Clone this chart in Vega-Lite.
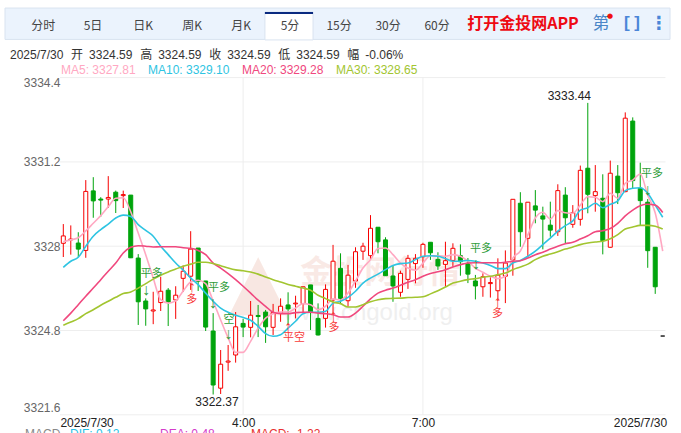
{"$schema":"https://vega.github.io/schema/vega-lite/v6.json","width":681,"height":433,"autosize":"none","padding":0,"background":"#ffffff","view":{"stroke":null},
"datasets":{"bars":[
{"i":0,"open":3328.11,"high":3328.84,"low":3327.59,"close":3328.39,"dir":"up","ma5":3328.17,"ma10":3327.20,"ma20":3325.17,"ma30":3325.00},
{"i":1,"open":3328.24,"high":3328.79,"low":3327.68,"close":3328.27,"dir":"up","ma5":3328.24,"ma10":3327.43,"ma20":3325.46,"ma30":3325.12},
{"i":2,"open":3328.12,"high":3328.53,"low":3327.59,"close":3327.89,"dir":"down","ma5":3328.32,"ma10":3327.58,"ma20":3325.78,"ma30":3325.25},
{"i":3,"open":3327.84,"high":3330.51,"low":3327.56,"close":3330.08,"dir":"up","ma5":3328.58,"ma10":3328.00,"ma20":3326.10,"ma30":3325.44},
{"i":4,"open":3330.10,"high":3330.62,"low":3329.08,"close":3329.72,"dir":"down","ma5":3328.87,"ma10":3328.38,"ma20":3326.41,"ma30":3325.59},
{"i":5,"open":3329.79,"high":3329.86,"low":3329.12,"close":3329.75,"dir":"down","ma5":3329.16,"ma10":3328.63,"ma20":3326.73,"ma30":3325.76},
{"i":6,"open":3329.79,"high":3330.66,"low":3329.45,"close":3329.85,"dir":"up","ma5":3329.50,"ma10":3328.84,"ma20":3327.05,"ma30":3325.91},
{"i":7,"open":3330.05,"high":3330.11,"low":3329.26,"close":3329.73,"dir":"down","ma5":3329.82,"ma10":3329.07,"ma20":3327.36,"ma30":3326.06},
{"i":8,"open":3329.92,"high":3330.11,"low":3329.45,"close":3329.96,"dir":"up","ma5":3329.84,"ma10":3329.18,"ma20":3327.74,"ma30":3326.20},
{"i":9,"open":3329.94,"high":3329.94,"low":3327.55,"close":3327.56,"dir":"down","ma5":3329.31,"ma10":3329.13,"ma20":3327.96,"ma30":3326.26},
{"i":10,"open":3327.55,"high":3327.70,"low":3325.01,"close":3325.89,"dir":"down","ma5":3328.50,"ma10":3328.82,"ma20":3328.02,"ma30":3326.41},
{"i":11,"open":3325.92,"high":3326.02,"low":3324.98,"close":3325.62,"dir":"down","ma5":3327.68,"ma10":3328.60,"ma20":3328.00,"ma30":3326.58},
{"i":12,"open":3325.54,"high":3326.27,"low":3325.04,"close":3325.58,"dir":"up","ma5":3326.79,"ma10":3328.38,"ma20":3327.97,"ma30":3326.75},
{"i":13,"open":3325.86,"high":3326.84,"low":3325.54,"close":3326.29,"dir":"up","ma5":3325.97,"ma10":3328.00,"ma20":3327.98,"ma30":3326.90},
{"i":14,"open":3326.33,"high":3326.41,"low":3324.97,"close":3325.87,"dir":"down","ma5":3325.84,"ma10":3327.68,"ma20":3327.98,"ma30":3327.02},
{"i":15,"open":3325.96,"high":3326.48,"low":3325.24,"close":3326.14,"dir":"up","ma5":3325.93,"ma10":3327.36,"ma20":3327.98,"ma30":3327.13},
{"i":16,"open":3326.78,"high":3327.27,"low":3326.26,"close":3327.05,"dir":"up","ma5":3326.30,"ma10":3327.09,"ma20":3327.94,"ma30":3327.24},
{"i":17,"open":3326.86,"high":3328.57,"low":3326.34,"close":3327.89,"dir":"up","ma5":3326.64,"ma10":3326.79,"ma20":3327.92,"ma30":3327.32},
{"i":18,"open":3327.93,"high":3327.93,"low":3326.30,"close":3326.67,"dir":"down","ma5":3326.71,"ma10":3326.54,"ma20":3327.84,"ma30":3327.39},
{"i":19,"open":3326.68,"high":3326.68,"low":3324.78,"close":3324.93,"dir":"down","ma5":3326.58,"ma10":3326.22,"ma20":3327.68,"ma30":3327.39},
{"i":20,"open":3324.78,"high":3325.46,"low":3322.37,"close":3322.73,"dir":"down","ma5":3325.91,"ma10":3325.91,"ma20":3327.36,"ma30":3327.34},
{"i":21,"open":3322.61,"high":3324.06,"low":3322.39,"close":3323.52,"dir":"up","ma5":3325.20,"ma10":3325.65,"ma20":3327.17,"ma30":3327.26},
{"i":22,"open":3323.60,"high":3324.25,"low":3323.27,"close":3323.64,"dir":"up","ma5":3324.52,"ma10":3325.49,"ma20":3326.96,"ma30":3327.17},
{"i":23,"open":3323.87,"high":3325.50,"low":3323.58,"close":3324.94,"dir":"up","ma5":3323.97,"ma10":3325.38,"ma20":3326.73,"ma30":3327.10},
{"i":24,"open":3325.07,"high":3325.24,"low":3324.55,"close":3324.93,"dir":"down","ma5":3323.97,"ma10":3325.29,"ma20":3326.48,"ma30":3327.07},
{"i":25,"open":3324.92,"high":3325.92,"low":3324.54,"close":3325.38,"dir":"up","ma5":3324.39,"ma10":3325.19,"ma20":3326.22,"ma30":3327.02},
{"i":26,"open":3325.37,"high":3325.77,"low":3324.55,"close":3325.33,"dir":"down","ma5":3324.89,"ma10":3324.96,"ma20":3325.95,"ma30":3326.94},
{"i":27,"open":3325.50,"high":3325.58,"low":3324.33,"close":3324.94,"dir":"down","ma5":3325.27,"ma10":3324.68,"ma20":3325.72,"ma30":3326.83},
{"i":28,"open":3324.92,"high":3325.81,"low":3324.63,"close":3325.48,"dir":"up","ma5":3325.44,"ma10":3324.58,"ma20":3325.49,"ma30":3326.73},
{"i":29,"open":3325.45,"high":3326.02,"low":3325.13,"close":3325.72,"dir":"up","ma5":3325.50,"ma10":3324.64,"ma20":3325.44,"ma30":3326.64},
{"i":30,"open":3325.77,"high":3326.25,"low":3325.01,"close":3325.62,"dir":"down","ma5":3325.50,"ma10":3324.89,"ma20":3325.44,"ma30":3326.55},
{"i":31,"open":3325.81,"high":3326.12,"low":3325.26,"close":3325.84,"dir":"up","ma5":3325.65,"ma10":3325.15,"ma20":3325.48,"ma30":3326.48},
{"i":32,"open":3325.82,"high":3326.46,"low":3325.49,"close":3326.46,"dir":"up","ma5":3325.82,"ma10":3325.44,"ma20":3325.49,"ma30":3326.41},
{"i":33,"open":3326.53,"high":3326.53,"low":3324.82,"close":3325.51,"dir":"down","ma5":3325.78,"ma10":3325.49,"ma20":3325.49,"ma30":3326.33},
{"i":34,"open":3325.26,"high":3325.83,"low":3324.61,"close":3324.63,"dir":"down","ma5":3325.59,"ma10":3325.49,"ma20":3325.46,"ma30":3326.14},
{"i":35,"open":3325.26,"high":3326.55,"low":3324.91,"close":3326.36,"dir":"up","ma5":3325.72,"ma10":3325.53,"ma20":3325.44,"ma30":3326.01},
{"i":36,"open":3325.96,"high":3328.05,"low":3325.45,"close":3327.43,"dir":"up","ma5":3326.00,"ma10":3325.84,"ma20":3325.40,"ma30":3325.88},
{"i":37,"open":3327.16,"high":3327.73,"low":3325.83,"close":3326.02,"dir":"down","ma5":3325.96,"ma10":3325.91,"ma20":3325.31,"ma30":3325.82},
{"i":38,"open":3325.93,"high":3327.29,"low":3325.70,"close":3326.90,"dir":"up","ma5":3326.22,"ma10":3326.06,"ma20":3325.31,"ma30":3325.69},
{"i":39,"open":3326.68,"high":3327.96,"low":3326.42,"close":3327.79,"dir":"up","ma5":3326.68,"ma10":3326.29,"ma20":3325.46,"ma30":3325.69},
{"i":40,"open":3327.81,"high":3328.13,"low":3327.48,"close":3328.00,"dir":"up","ma5":3327.17,"ma10":3326.60,"ma20":3325.72,"ma30":3325.78},
{"i":41,"open":3327.64,"high":3329.18,"low":3327.51,"close":3328.68,"dir":"up","ma5":3327.49,"ma10":3326.79,"ma20":3326.00,"ma30":3325.89},
{"i":42,"open":3328.72,"high":3328.72,"low":3327.73,"close":3328.17,"dir":"down","ma5":3327.91,"ma10":3326.94,"ma20":3326.22,"ma30":3325.97},
{"i":43,"open":3328.24,"high":3328.34,"low":3326.87,"close":3326.88,"dir":"down","ma5":3327.93,"ma10":3327.11,"ma20":3326.33,"ma30":3326.01},
{"i":44,"open":3326.87,"high":3327.25,"low":3325.89,"close":3326.49,"dir":"down","ma5":3327.68,"ma10":3327.27,"ma20":3326.41,"ma30":3326.02},
{"i":45,"open":3326.25,"high":3327.07,"low":3326.08,"close":3326.97,"dir":"up","ma5":3327.36,"ma10":3327.34,"ma20":3326.52,"ma30":3326.03},
{"i":46,"open":3326.74,"high":3327.67,"low":3326.38,"close":3327.54,"dir":"up","ma5":3327.17,"ma10":3327.36,"ma20":3326.63,"ma30":3326.05},
{"i":47,"open":3327.34,"high":3327.70,"low":3326.59,"close":3327.54,"dir":"up","ma5":3327.09,"ma10":3327.49,"ma20":3326.73,"ma30":3326.06},
{"i":48,"open":3327.60,"high":3328.13,"low":3327.18,"close":3328.07,"dir":"up","ma5":3327.36,"ma10":3327.62,"ma20":3326.86,"ma30":3326.08},
{"i":49,"open":3328.15,"high":3328.15,"low":3327.48,"close":3327.75,"dir":"down","ma5":3327.64,"ma10":3327.64,"ma20":3326.96,"ma30":3326.19},
{"i":50,"open":3327.50,"high":3327.77,"low":3327.10,"close":3327.25,"dir":"down","ma5":3327.64,"ma10":3327.62,"ma20":3327.03,"ma30":3326.31},
{"i":51,"open":3327.31,"high":3328.17,"low":3326.46,"close":3327.45,"dir":"up","ma5":3327.62,"ma10":3327.53,"ma20":3327.11,"ma30":3326.45},
{"i":52,"open":3327.46,"high":3328.11,"low":3327.22,"close":3327.92,"dir":"up","ma5":3327.68,"ma10":3327.43,"ma20":3327.21,"ma30":3326.60},
{"i":53,"open":3327.64,"high":3328.07,"low":3326.88,"close":3327.41,"dir":"down","ma5":3327.62,"ma10":3327.43,"ma20":3327.30,"ma30":3326.67},
{"i":54,"open":3327.35,"high":3327.55,"low":3326.60,"close":3326.94,"dir":"down","ma5":3327.43,"ma10":3327.46,"ma20":3327.36,"ma30":3326.73},
{"i":55,"open":3326.68,"high":3326.91,"low":3325.98,"close":3326.49,"dir":"down","ma5":3327.17,"ma10":3327.43,"ma20":3327.37,"ma30":3326.77},
{"i":56,"open":3326.46,"high":3326.97,"low":3326.08,"close":3326.84,"dir":"up","ma5":3327.01,"ma10":3327.36,"ma20":3327.37,"ma30":3326.82},
{"i":57,"open":3326.58,"high":3326.82,"low":3326.05,"close":3326.62,"dir":"up","ma5":3326.86,"ma10":3327.27,"ma20":3327.37,"ma30":3326.86},
{"i":58,"open":3326.31,"high":3327.54,"low":3325.92,"close":3326.90,"dir":"up","ma5":3326.77,"ma10":3327.15,"ma20":3327.37,"ma30":3326.92},
{"i":59,"open":3326.86,"high":3327.84,"low":3325.84,"close":3327.36,"dir":"up","ma5":3326.86,"ma10":3327.15,"ma20":3327.39,"ma30":3326.98},
{"i":60,"open":3327.48,"high":3329.78,"low":3326.88,"close":3329.78,"dir":"up","ma5":3327.55,"ma10":3327.36,"ma20":3327.43,"ma30":3327.11},
{"i":61,"open":3329.63,"high":3330.05,"low":3327.98,"close":3328.55,"dir":"down","ma5":3327.82,"ma10":3327.46,"ma20":3327.45,"ma30":3327.21},
{"i":62,"open":3328.30,"high":3329.67,"low":3327.58,"close":3329.67,"dir":"up","ma5":3328.43,"ma10":3327.62,"ma20":3327.55,"ma30":3327.32},
{"i":63,"open":3329.53,"high":3330.13,"low":3328.87,"close":3329.37,"dir":"down","ma5":3329.07,"ma10":3327.81,"ma20":3327.68,"ma30":3327.49},
{"i":64,"open":3329.15,"high":3329.50,"low":3327.88,"close":3329.03,"dir":"down","ma5":3329.29,"ma10":3328.06,"ma20":3327.77,"ma30":3327.62},
{"i":65,"open":3328.80,"high":3329.69,"low":3328.36,"close":3328.61,"dir":"down","ma5":3329.03,"ma10":3328.31,"ma20":3327.89,"ma30":3327.70},
{"i":66,"open":3328.55,"high":3330.35,"low":3328.39,"close":3330.11,"dir":"up","ma5":3329.35,"ma10":3328.57,"ma20":3328.00,"ma30":3327.79},
{"i":67,"open":3329.94,"high":3330.24,"low":3328.11,"close":3329.08,"dir":"down","ma5":3329.27,"ma10":3328.78,"ma20":3328.09,"ma30":3327.89},
{"i":68,"open":3328.83,"high":3329.56,"low":3328.70,"close":3329.27,"dir":"up","ma5":3329.25,"ma10":3328.96,"ma20":3328.15,"ma30":3327.97},
{"i":69,"open":3329.02,"high":3331.06,"low":3328.78,"close":3330.88,"dir":"up","ma5":3329.56,"ma10":3329.37,"ma20":3328.27,"ma30":3328.06},
{"i":70,"open":3330.96,"high":3333.44,"low":3329.25,"close":3329.97,"dir":"down","ma5":3329.88,"ma10":3329.46,"ma20":3328.40,"ma30":3328.12},
{"i":71,"open":3329.92,"high":3331.08,"low":3329.31,"close":3330.07,"dir":"up","ma5":3329.86,"ma10":3329.63,"ma20":3328.55,"ma30":3328.16},
{"i":72,"open":3329.82,"high":3330.73,"low":3327.69,"close":3328.21,"dir":"down","ma5":3329.69,"ma10":3329.46,"ma20":3328.59,"ma30":3328.19},
{"i":73,"open":3327.96,"high":3331.25,"low":3327.94,"close":3330.77,"dir":"up","ma5":3330.01,"ma10":3329.59,"ma20":3328.67,"ma30":3328.28},
{"i":74,"open":3330.66,"high":3331.08,"low":3329.60,"close":3330.03,"dir":"down","ma5":3329.82,"ma10":3329.72,"ma20":3328.87,"ma30":3328.44},
{"i":75,"open":3330.07,"high":3333.08,"low":3330.05,"close":3332.86,"dir":"up","ma5":3330.39,"ma10":3330.11,"ma20":3329.15,"ma30":3328.65},
{"i":76,"open":3332.75,"high":3332.89,"low":3330.20,"close":3330.49,"dir":"down","ma5":3330.51,"ma10":3330.20,"ma20":3329.37,"ma30":3328.73},
{"i":77,"open":3330.20,"high":3331.17,"low":3328.80,"close":3329.73,"dir":"down","ma5":3330.74,"ma10":3330.22,"ma20":3329.54,"ma30":3328.79},
{"i":78,"open":3329.67,"high":3329.79,"low":3327.18,"close":3327.83,"dir":"down","ma5":3329.94,"ma10":3330.01,"ma20":3329.59,"ma30":3328.79},
{"i":79,"open":3327.96,"high":3327.97,"low":3326.19,"close":3326.46,"dir":"down","ma5":3329.26,"ma10":3329.56,"ma20":3329.56,"ma30":3328.76},
{"i":80,"open":3324.59,"high":3324.59,"low":3324.59,"close":3324.59,"dir":"flat","ma5":3327.81,"ma10":3329.10,"ma20":3329.28,"ma30":3328.65}
],
"signals":[
{"i":11.77,"price":3326.94,"label":"平多","side":"close"},
{"i":11.04,"price":3326.34,"label":"↓","side":"close"},
{"i":17.14,"price":3325.97,"label":"多","side":"open"},
{"i":17.14,"price":3326.45,"label":"↑","side":"open"},
{"i":20.78,"price":3326.41,"label":"平多","side":"close"},
{"i":19.94,"price":3325.84,"label":"↓","side":"close"},
{"i":22.12,"price":3325.20,"label":"空","side":"close"},
{"i":22.02,"price":3324.67,"label":"↓","side":"close"},
{"i":30.79,"price":3324.52,"label":"平空","side":"open"},
{"i":29.99,"price":3324.93,"label":"↑","side":"open"},
{"i":36.13,"price":3324.89,"label":"多","side":"open"},
{"i":36.04,"price":3325.35,"label":"↑","side":"open"},
{"i":55.75,"price":3327.89,"label":"平多","side":"close"},
{"i":55.04,"price":3327.32,"label":"↓","side":"close"},
{"i":57.95,"price":3325.43,"label":"多","side":"open"},
{"i":57.95,"price":3325.88,"label":"↑","side":"open"},
{"i":78.57,"price":3330.74,"label":"平多","side":"close"},
{"i":77.97,"price":3330.13,"label":"↓","side":"close"}
]},
"layer":[
{"data":{"values":[{}]},"mark":{"type":"rect","fill":"#ebf3fd","stroke":"#d9e3f0","strokeWidth":1},"encoding":{"x":{"datum":-7.78,"type":"quantitative","axis":null},"x2":{"datum":80.98},"y":{"datum":3337.04,"type":"quantitative","axis":null},"y2":{"datum":3335.85}}},
{"data":{"values":[{}]},"mark":{"type":"rect","fill":"#ffffff","stroke":"#d9e3f0","strokeWidth":1},"encoding":{"x":{"datum":26.91,"type":"quantitative","axis":null},"x2":{"datum":33.33},"y":{"datum":3336.89,"type":"quantitative","axis":null},"y2":{"datum":3335.83}}},
{"data":{"values":[{}]},"mark":{"type":"rect","fill":"#0a2a80"},"encoding":{"x":{"datum":26.91,"type":"quantitative","axis":null},"x2":{"datum":33.33},"y":{"datum":3336.89,"type":"quantitative","axis":null},"y2":{"datum":3336.81}}},
{"data":{"values":[{"price":3334.4},{"price":3331.2},{"price":3328},{"price":3324.8},{"price":3321.6}]},"mark":{"type":"rule","stroke":"#eeeeee","strokeWidth":1},"encoding":{"y":{"field":"price","type":"quantitative","scale":{"domain":[3320.909,3337.346],"nice":false,"zero":false,"padding":0},"axis":{"title":null,"orient":"left","offset":-60,"values":[3334.4,3331.2,3328,3324.8,3321.6],"domain":false,"ticks":false,"grid":false,"labelFont":"Liberation Sans","labelFontSize":12,"labelColor":"#666666","labelPadding":0,"labelBound":false,"labelFlush":false,"labelOverlap":false,"labelExpr":"datum.value==3328?'3328':format(datum.value,'.1f')","labelBaseline":{"expr":"datum.value>3334?'top':datum.value<3322?'bottom':'middle'"}}},"x":{"datum":-0.44,"type":"quantitative","axis":null},"x2":{"datum":80.37}}},
{"data":{"values":[{"i":24},{"i":48}]},"mark":{"type":"rule","stroke":"#eeeeee","strokeWidth":1},"encoding":{"x":{"field":"i","type":"quantitative","scale":{"domain":[-8.448,82.44],"nice":false,"zero":false,"padding":0},"axis":{"title":null,"orient":"bottom","offset":-18,"values":[3.11,24,48,76.97],"domain":false,"ticks":false,"grid":false,"labelFont":"Liberation Sans","labelFontSize":12,"labelColor":"#222222","labelPadding":2,"labelFlush":false,"labelOverlap":false,"labelExpr":"datum.value==24?'4:00':datum.value==48?'7:00':'2025/7/30'"}},"y":{"datum":3334.4,"type":"quantitative","axis":null},"y2":{"datum":3321.6}}},
{"data":{"values":[{"t":"金投网行情"}]},"mark":{"type":"text","font":"Noto Sans CJK SC","fontSize":32,"fontWeight":"bold","fill":"#f9e9e5","align":"center","baseline":"middle"},"encoding":{"text":{"field":"t"},"x":{"datum":42.3,"type":"quantitative","axis":null},"y":{"datum":3326.98,"type":"quantitative","axis":null}}},
{"data":{"values":[{"t":"▲"}]},"mark":{"type":"text","font":"DejaVu Sans","fontSize":76,"fill":"#f8e7e2","align":"center","baseline":"middle"},"encoding":{"text":{"field":"t"},"x":{"datum":26,"type":"quantitative","axis":null},"y":{"datum":3326.6,"type":"quantitative","axis":null}}},
{"data":{"values":[{"t":"www.cngold.org"}]},"mark":{"type":"text","font":"Liberation Sans","fontSize":24,"fill":"#efefef","align":"center","baseline":"middle"},"encoding":{"text":{"field":"t"},"x":{"datum":40.7,"type":"quantitative","axis":null},"y":{"datum":3325.45,"type":"quantitative","axis":null}}},
{"data":{"name":"bars"},"mark":{"type":"rule","strokeWidth":1},"encoding":{"x":{"field":"i","type":"quantitative","axis":null},"y":{"field":"low","type":"quantitative","axis":null},"y2":{"field":"high"},"stroke":{"field":"dir","type":"nominal","legend":null,"scale":{"domain":["up","down","flat"],"range":["#f70000","#00a40c","#222222"]}}}},
{"data":{"name":"bars"},"mark":{"type":"bar","size":4,"orient":"vertical","strokeWidth":1},"encoding":{"x":{"field":"i","type":"quantitative","axis":null},"y":{"field":"open","type":"quantitative","axis":null},"y2":{"field":"close"},"stroke":{"field":"dir","type":"nominal","legend":null},"fill":{"field":"dir","type":"nominal","legend":null,"scale":{"domain":["up","down","flat"],"range":["#ffffff","#00a40c","#222222"]}}}},
{"data":{"name":"bars"},"transform":[{"fold":["ma5","ma10","ma20","ma30"],"as":["line","value"]}],"mark":{"type":"line","strokeWidth":1.6,"interpolate":"monotone"},"encoding":{"x":{"field":"i","type":"quantitative","axis":null},"y":{"field":"value","type":"quantitative","axis":null},"color":{"field":"line","type":"nominal","scale":{"domain":["ma5","ma10","ma20","ma30"],"range":["#ffa8c2","#2ec4e2","#f0487e","#a2c530"]},"legend":{"title":null,"orient":"none","legendX":49,"legendY":63.5,"direction":"horizontal","columns":4,"gridAlign":"each","columnPadding":0,"padding":0,"symbolSize":0,"symbolOpacity":0,"symbolStrokeWidth":0,"labelOffset":0,"labelFont":"Liberation Sans","labelFontSize":12,"labelExpr":"datum.value=='ma5'?'MA5: 3327.81':datum.value=='ma10'?'MA10: 3329.10':datum.value=='ma20'?'MA20: 3329.28':'MA30: 3328.65'","encode":{"labels":{"update":{"fill":{"scale":"color","field":"value"}}}}}}}},
{"data":{"name":"signals"},"transform":[{"filter":"datum.label!='↓'&&datum.label!='↑'"}],"mark":{"type":"text","font":"Noto Sans CJK SC","fontSize":11,"align":"center","baseline":"middle"},"encoding":{"x":{"field":"i","type":"quantitative","axis":null},"y":{"field":"price","type":"quantitative","axis":null},"text":{"field":"label"},"fill":{"field":"side","type":"nominal","legend":null,"scale":{"domain":["close","open"],"range":["#2e9c3a","#f83a3a"]}}}},
{"data":{"name":"signals"},"transform":[{"filter":"datum.label=='↓'||datum.label=='↑'"}],"mark":{"type":"text","font":"Liberation Sans","fontSize":16,"align":"center","baseline":"middle"},"encoding":{"x":{"field":"i","type":"quantitative","axis":null},"y":{"field":"price","type":"quantitative","axis":null},"text":{"field":"label"},"fill":{"field":"side","type":"nominal","legend":null,"scale":{"domain":["close","open"],"range":["#2e9c3a","#f83a3a"]}}}},
{"data":{"values":[{"i":67.54,"price":3333.70,"label":"3333.44"},{"i":20.51,"price":3322.09,"label":"3322.37"}]},"mark":{"type":"text","font":"Liberation Sans","fontSize":12,"fill":"#222222","align":"center","baseline":"middle"},"encoding":{"x":{"field":"i","type":"quantitative","axis":null},"y":{"field":"price","type":"quantitative","axis":null},"text":{"field":"label"}}},
{"data":{"values":[{"t":"分时"}]},"mark":{"type":"text","font":"Noto Sans CJK SC","fontSize":12,"fill":"#444444","align":"center","baseline":"middle"},"encoding":{"text":{"field":"t"},"x":{"datum":-2.67,"type":"quantitative","axis":null},"y":{"datum":3336.36,"type":"quantitative","axis":null}}},
{"data":{"values":[{"t":"5日"}]},"mark":{"type":"text","font":"Noto Sans CJK SC","fontSize":12,"fill":"#444444","align":"center","baseline":"middle"},"encoding":{"text":{"field":"t"},"x":{"datum":3.96,"type":"quantitative","axis":null},"y":{"datum":3336.36,"type":"quantitative","axis":null}}},
{"data":{"values":[{"t":"日K"}]},"mark":{"type":"text","font":"Noto Sans CJK SC","fontSize":12,"fill":"#444444","align":"center","baseline":"middle"},"encoding":{"text":{"field":"t"},"x":{"datum":10.64,"type":"quantitative","axis":null},"y":{"datum":3336.36,"type":"quantitative","axis":null}}},
{"data":{"values":[{"t":"周K"}]},"mark":{"type":"text","font":"Noto Sans CJK SC","fontSize":12,"fill":"#444444","align":"center","baseline":"middle"},"encoding":{"text":{"field":"t"},"x":{"datum":17.18,"type":"quantitative","axis":null},"y":{"datum":3336.36,"type":"quantitative","axis":null}}},
{"data":{"values":[{"t":"月K"}]},"mark":{"type":"text","font":"Noto Sans CJK SC","fontSize":12,"fill":"#444444","align":"center","baseline":"middle"},"encoding":{"text":{"field":"t"},"x":{"datum":23.72,"type":"quantitative","axis":null},"y":{"datum":3336.36,"type":"quantitative","axis":null}}},
{"data":{"values":[{"t":"5分"}]},"mark":{"type":"text","font":"Noto Sans CJK SC","fontSize":12,"fill":"#444444","align":"center","baseline":"middle"},"encoding":{"text":{"field":"t"},"x":{"datum":30.26,"type":"quantitative","axis":null},"y":{"datum":3336.36,"type":"quantitative","axis":null}}},
{"data":{"values":[{"t":"15分"}]},"mark":{"type":"text","font":"Noto Sans CJK SC","fontSize":12,"fill":"#444444","align":"center","baseline":"middle"},"encoding":{"text":{"field":"t"},"x":{"datum":36.8,"type":"quantitative","axis":null},"y":{"datum":3336.36,"type":"quantitative","axis":null}}},
{"data":{"values":[{"t":"30分"}]},"mark":{"type":"text","font":"Noto Sans CJK SC","fontSize":12,"fill":"#444444","align":"center","baseline":"middle"},"encoding":{"text":{"field":"t"},"x":{"datum":43.34,"type":"quantitative","axis":null},"y":{"datum":3336.36,"type":"quantitative","axis":null}}},
{"data":{"values":[{"t":"60分"}]},"mark":{"type":"text","font":"Noto Sans CJK SC","fontSize":12,"fill":"#444444","align":"center","baseline":"middle"},"encoding":{"text":{"field":"t"},"x":{"datum":49.88,"type":"quantitative","axis":null},"y":{"datum":3336.36,"type":"quantitative","axis":null}}},
{"data":{"values":[{"t":"打开金投网APP"}]},"mark":{"type":"text","font":"Noto Sans CJK SC","fontSize":16,"fontWeight":"bold","fill":"#ee0a14","align":"center","baseline":"middle"},"encoding":{"text":{"field":"t"},"x":{"datum":61.35,"type":"quantitative","axis":null},"y":{"datum":3336.44,"type":"quantitative","axis":null}}},
{"data":{"values":[{"t":"第"}]},"mark":{"type":"text","font":"Noto Sans CJK SC","fontSize":17,"fill":"#4a86c8","align":"center","baseline":"middle"},"encoding":{"text":{"field":"t"},"x":{"datum":71.77,"type":"quantitative","axis":null},"y":{"datum":3336.44,"type":"quantitative","axis":null}}},
{"data":{"values":[{"t":"●"}]},"mark":{"type":"text","font":"DejaVu Sans","fontSize":7,"fill":"#f01010","align":"center","baseline":"middle"},"encoding":{"text":{"field":"t"},"x":{"datum":72.97,"type":"quantitative","axis":null},"y":{"datum":3336.74,"type":"quantitative","axis":null}}},
{"data":{"values":[{"t":"[ ]"}]},"mark":{"type":"text","font":"Liberation Sans","fontSize":17,"fontWeight":"bold","fill":"#4a86d8","align":"center","baseline":"middle"},"encoding":{"text":{"field":"t"},"x":{"datum":75.9,"type":"quantitative","axis":null},"y":{"datum":3336.48,"type":"quantitative","axis":null}}},
{"data":{"values":[{"t":"⋮"}]},"mark":{"type":"text","font":"DejaVu Sans","fontSize":18,"fontWeight":"bold","fill":"#4a86d8","align":"center","baseline":"middle"},"encoding":{"text":{"field":"t"},"x":{"datum":79.5,"type":"quantitative","axis":null},"y":{"datum":3336.44,"type":"quantitative","axis":null}}},
{"data":{"values":[{"t":"2025/7/30\u00a0\u00a0\u200a开\u20023324.59\u00a0\u00a0\u200a高\u20023324.59\u00a0\u00a0\u200a收\u20023324.59\u00a0\u00a0\u200a低\u20023324.59\u00a0\u00a0\u200a幅\u2002-0.06%"}]},"mark":{"type":"text","font":"Liberation Sans, Noto Sans CJK SC","fontSize":12,"fill":"#333333","align":"left","baseline":"middle"},"encoding":{"text":{"field":"t"},"x":{"datum":-7.11,"type":"quantitative","axis":null},"y":{"datum":3335.26,"type":"quantitative","axis":null}}},
{"data":{"values":[{"t":"MACD"}]},"mark":{"type":"text","font":"Liberation Sans","fontSize":12,"fill":"#888888","align":"left","baseline":"middle"},"encoding":{"text":{"field":"t"},"x":{"datum":-5.11,"type":"quantitative","axis":null},"y":{"datum":3320.87,"type":"quantitative","axis":null}}},
{"data":{"values":[{"t":"DIF: 0.12"}]},"mark":{"type":"text","font":"Liberation Sans","fontSize":12,"fill":"#27c1e6","align":"left","baseline":"middle"},"encoding":{"text":{"field":"t"},"x":{"datum":0.89,"type":"quantitative","axis":null},"y":{"datum":3320.87,"type":"quantitative","axis":null}}},
{"data":{"values":[{"t":"DEA: 0.48"}]},"mark":{"type":"text","font":"Liberation Sans","fontSize":12,"fill":"#d43bcb","align":"left","baseline":"middle"},"encoding":{"text":{"field":"t"},"x":{"datum":12.91,"type":"quantitative","axis":null},"y":{"datum":3320.87,"type":"quantitative","axis":null}}},
{"data":{"values":[{"t":"MACD: -1.22"}]},"mark":{"type":"text","font":"Liberation Sans","fontSize":12,"fill":"#e83030","align":"left","baseline":"middle"},"encoding":{"text":{"field":"t"},"x":{"datum":25.05,"type":"quantitative","axis":null},"y":{"datum":3320.87,"type":"quantitative","axis":null}}}
],
"resolve":{"scale":{"fill":"independent"},"axis":{"x":"independent","y":"independent"}}
}
